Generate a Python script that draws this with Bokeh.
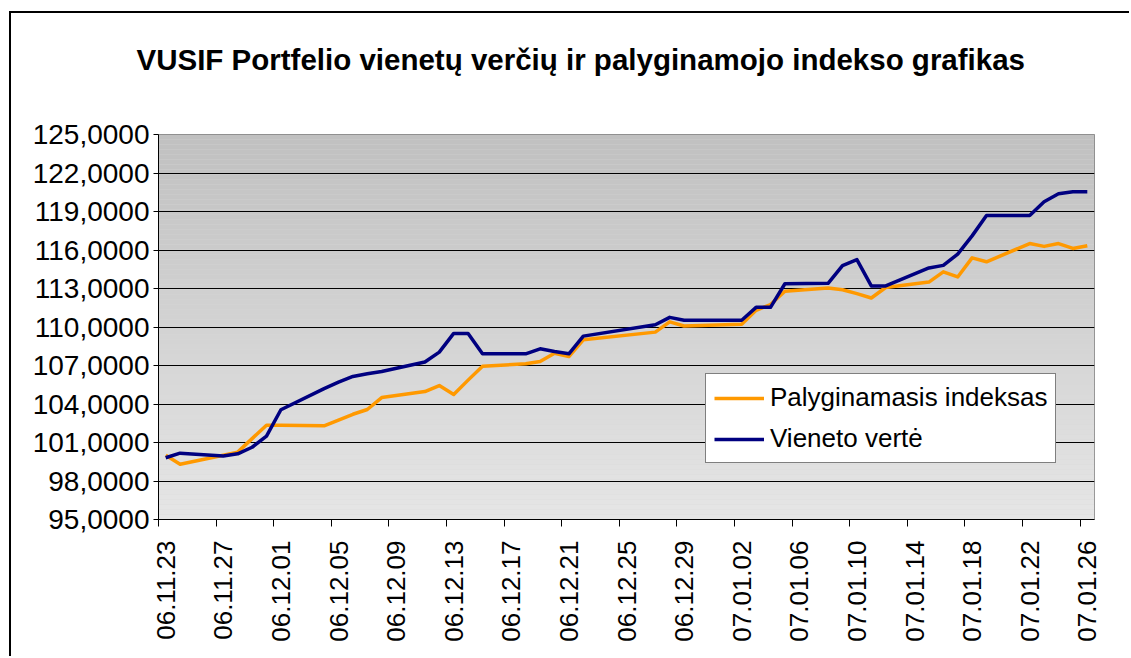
import math
from datetime import date

from bokeh.plotting import figure
from bokeh.models import FixedTicker, Legend, LegendItem, BoxAnnotation, Title
from bokeh.embed import file_html
from bokeh.resources import INLINE

# ---------------- data ----------------
trade_dates = [
    "2006-11-23", "2006-11-24", "2006-11-27", "2006-11-28", "2006-11-29", "2006-11-30",
    "2006-12-01", "2006-12-04", "2006-12-05", "2006-12-06", "2006-12-07", "2006-12-08",
    "2006-12-11", "2006-12-12", "2006-12-13", "2006-12-14", "2006-12-15", "2006-12-18",
    "2006-12-19", "2006-12-20", "2006-12-21", "2006-12-22", "2006-12-27", "2006-12-28",
    "2006-12-29", "2007-01-02", "2007-01-03", "2007-01-04", "2007-01-05", "2007-01-08",
    "2007-01-09", "2007-01-10", "2007-01-11", "2007-01-12", "2007-01-15", "2007-01-16",
    "2007-01-17", "2007-01-18", "2007-01-19", "2007-01-22", "2007-01-23", "2007-01-24",
    "2007-01-25", "2007-01-26",
]
palyginamasis_indeksas = [
    100.00, 99.30, 100.00, 100.25, 101.30, 102.35,
    102.35, 102.30, 102.75, 103.20, 103.57, 104.50,
    104.97, 105.44, 104.74, 105.86, 106.95, 107.13,
    107.31, 107.96, 107.70, 109.00, 109.60, 110.40,
    110.08, 110.22, 111.30, 111.75, 112.78, 113.04,
    112.90, 112.60, 112.26, 113.08, 113.50, 114.30,
    113.90, 115.39, 115.08, 116.50, 116.28, 116.50,
    116.12, 116.33,
]
vieneto_verte = [
    99.81, 100.17, 99.95, 100.12, 100.63, 101.50,
    103.55, 105.20, 105.70, 106.15, 106.35, 106.53,
    107.27, 108.04, 109.50, 109.50, 107.91, 107.91,
    108.30, 108.09, 107.91, 109.29, 110.18, 110.75,
    110.53, 110.53, 111.53, 111.53, 113.37, 113.40,
    114.79, 115.25, 113.20, 113.20, 114.60, 114.80,
    115.68, 117.10, 118.69, 118.69, 119.76, 120.38,
    120.54, 120.54,
]
x_tick_labels = [
    "06.11.23", "06.11.27", "06.12.01", "06.12.05", "06.12.09", "06.12.13",
    "06.12.17", "06.12.21", "06.12.25", "06.12.29", "07.01.02", "07.01.06",
    "07.01.10", "07.01.14", "07.01.18", "07.01.22", "07.01.26",
]
y_ticks = [95, 98, 101, 104, 107, 110, 113, 116, 119, 122, 125]
y_tick_labels = ["95,0000", "98,0000", "101,0000", "104,0000", "107,0000", "110,0000",
                 "113,0000", "116,0000", "119,0000", "122,0000", "125,0000"]
title_text = "VUSIF Portfelio vienetų verčių ir palyginamojo indekso grafikas"
series_names = ["Palyginamasis indeksas", "Vieneto vertė"]

# ---------------- derived positions ----------------
start = date.fromisoformat(trade_dates[0])
xs = [(date.fromisoformat(s) - start).days for s in trade_dates]


def label_pos(s):
    yy, mm, dd = s.split(".")
    return (date(2000 + int(yy), int(mm), int(dd)) - start).days


x_tick_pos = [label_pos(s) for s in x_tick_labels]

FONT = "Liberation Sans"
OX, OY = 9, 11          # outer chart border position in the page
BW = 2                  # outer border width
CX, CY = OX + BW, OY + BW
W, H = 1131 - CX, 658 - CY
FL, FT, FR, FB = 158, 134, 1094, 519   # frame edges in page coordinates

p = figure(
    width=W, height=H,
    x_range=(x_tick_pos[0] - 0.5, x_tick_pos[-1] + 0.5),
    y_range=(y_ticks[0], y_ticks[-1]),
    output_backend="svg", toolbar_location=None,
    min_border_left=FL - CX, min_border_right=W - (FR - CX),
    min_border_top=FT - CY, min_border_bottom=H - (FB - CY),
)
p.margin = (OY, 0, 0, OX)
p.styles = {"border-top": f"{BW}px solid black", "border-left": f"{BW}px solid black"}
p.border_fill_color = "white"
p.background_fill_color = "#d8d8d8"
p.outline_line_color = "#808080"
p.outline_line_width = 1

# gradient plot area background (darker at top)
n_bands = 77
y0, y1 = y_ticks[0], y_ticks[-1]
for i in range(n_bands):
    b = y0 + (y1 - y0) * i / n_bands
    t = y0 + (y1 - y0) * (i + 1) / n_bands
    g = int(round(230 - 38 * (i + 0.5) / n_bands))
    p.add_layout(BoxAnnotation(bottom=b, top=t, fill_color=(g, g, g), fill_alpha=1,
                               line_color=None, level="image"))

# grid
p.xgrid.visible = False
p.ygrid.ticker = FixedTicker(ticks=y_ticks)
p.ygrid.grid_line_color = "black"
p.ygrid.grid_line_width = 1

# y axis
ya = p.yaxis[0]
ya.ticker = FixedTicker(ticks=y_ticks)
ya.major_label_overrides = {t: l for t, l in zip(y_ticks, y_tick_labels)}
ya.major_tick_out = 5
ya.major_tick_in = 0
ya.minor_tick_out = 0
ya.minor_tick_in = 0
ya.major_label_standoff = 4
ya.axis_line_color = "black"
ya.major_tick_line_color = "black"
ya.major_label_text_font = FONT
ya.major_label_text_font_size = "28px"
ya.major_label_text_color = "black"

# x axis
xa = p.xaxis[0]
xa.ticker = FixedTicker(ticks=x_tick_pos, minor_ticks=[t - 0.5 for t in x_tick_pos])
xa.major_label_overrides = {t: l for t, l in zip(x_tick_pos, x_tick_labels)}
xa.major_tick_out = 0
xa.major_tick_in = 0
xa.minor_tick_out = 7
xa.minor_tick_in = 0
xa.minor_tick_line_color = "black"
xa.major_label_orientation = math.pi / 2
xa.major_label_standoff = 14
xa.axis_line_color = "black"
xa.major_label_text_font = FONT
xa.major_label_text_font_size = "26px"
xa.major_label_text_color = "black"

# lines
r1 = p.line(xs, palyginamasis_indeksas, line_color="#FF9900", line_width=3.5, line_join="round")
r2 = p.line(xs, vieneto_verte, line_color="#000080", line_width=3.5, line_join="round")

legend = Legend(
    items=[LegendItem(label=series_names[0], renderers=[r1]),
           LegendItem(label=series_names[1], renderers=[r2])],
    location=(547, 56),
    border_line_color="black", border_line_width=1,
    background_fill_color="white", background_fill_alpha=1,
    label_text_font=FONT, label_text_font_size="26px", label_text_color="black",
    glyph_width=50, glyph_height=30, label_height=30, label_standoff=6,
    padding=8, spacing=10, margin=0,
)
p.add_layout(legend, "center")

# spacer between frame and title, then the title itself
p.add_layout(Title(text=" ", text_font_size="1px", standoff=56), "above")
p.add_layout(Title(text=title_text, align="left", offset=136 - FL, standoff=0,
                   text_font=FONT, text_font_style="bold",
                   text_font_size="29.5px", text_color="black"), "above")

open("out.html", "w").write(file_html(p, INLINE))
